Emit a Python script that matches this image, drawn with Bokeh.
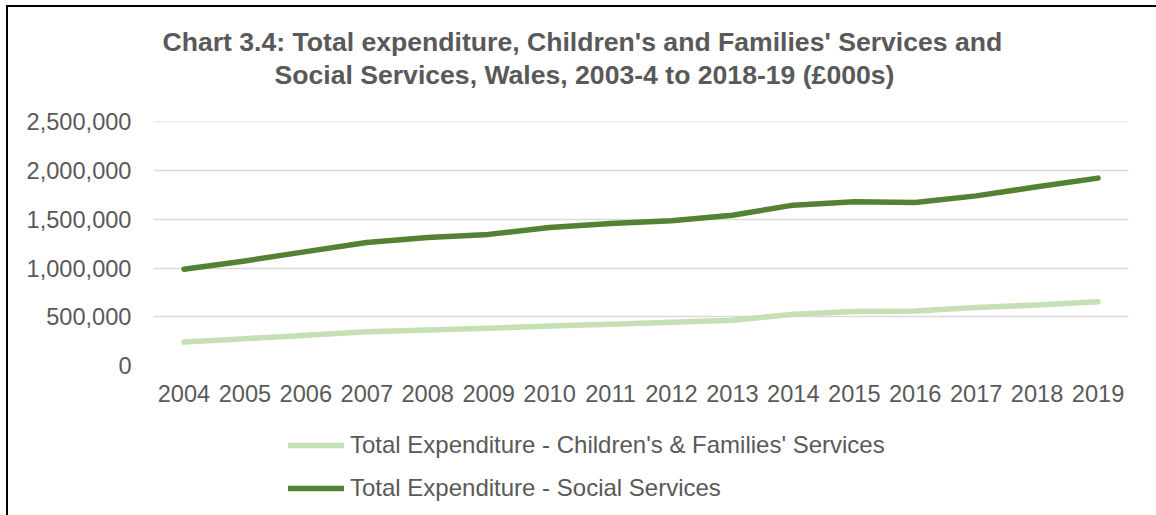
from bokeh.plotting import figure
from bokeh.models import (Range1d, NumeralTickFormatter, Legend, LegendItem, Title)
from bokeh.layouts import column
from bokeh.embed import file_html
from bokeh.resources import INLINE

years = [str(y) for y in range(2004, 2020)]
children_families = [241000, 275000, 310000, 347000, 364000, 382000, 406000, 423000,
                     443000, 464000, 525000, 553000, 560000, 594000, 621000, 655000]
social_services = [988000, 1073000, 1168000, 1261000, 1312000, 1345000, 1415000, 1456000,
                   1484000, 1542000, 1645000, 1679000, 1672000, 1740000, 1833000, 1922000]
y_ticks = [0, 500000, 1000000, 1500000, 2000000, 2500000]
title_line1 = "Chart 3.4: Total expenditure, Children's and Families' Services and"
title_line2 = "Social Services, Wales, 2003-4 to 2018-19 (£000s)"
label_cf = "Total Expenditure - Children's & Families' Services"
label_ss = "Total Expenditure - Social Services"

TXT = "#595959"
FONT = "Liberation Sans"
C_CF = "#C5E0B4"
C_SS = "#548235"

p = figure(width=1148, height=420, x_range=years, y_range=Range1d(0, 2503000),
           output_backend="svg", toolbar_location=None,
           min_border_left=145, min_border_right=28, min_border_top=114,
           min_border_bottom=62)
p.outline_line_color = None
p.background_fill_color = "white"

p.line(years, children_families, line_color=C_CF, line_width=5.5, line_cap="round", line_join="round")
p.line(years, social_services, line_color=C_SS, line_width=5.5, line_cap="round", line_join="round")

p.yaxis.formatter = NumeralTickFormatter(format="0,0")
p.yaxis.ticker = y_ticks
for ax in (p.xaxis[0], p.yaxis[0]):
    ax.axis_line_color = None
    ax.major_tick_line_color = None
    ax.minor_tick_line_color = None
    ax.major_label_text_color = TXT
    ax.major_label_text_font = FONT
    ax.major_label_text_font_size = "23.6px"
p.yaxis.major_label_standoff = 16
p.xaxis.major_label_standoff = 13
p.xgrid.grid_line_color = None
p.ygrid.grid_line_color = "#d9d9d9"
p.ygrid.grid_line_width = 1.5

spacer = Title(text=" ", text_font=FONT, text_font_size="26.6px", standoff=0)
t2 = Title(text=title_line2, align="left", offset=121, text_font=FONT, text_font_size="26.6px",
           text_font_style="bold", text_color=TXT, standoff=0)
t1 = Title(text=title_line1, align="left", offset=9, text_font=FONT, text_font_size="26.6px",
           text_font_style="bold", text_color=TXT, standoff=2)
p.add_layout(spacer, "above")
p.add_layout(t2, "above")
p.add_layout(t1, "above")

# legend panel (legend-only proxies, kept outside the visible range)
p2 = figure(width=1148, height=88, x_range=Range1d(0, 1), y_range=Range1d(0, 1),
            output_backend="svg", toolbar_location=None, x_axis_type=None, y_axis_type=None,
            min_border_left=0, min_border_right=0, min_border_top=0, min_border_bottom=0)
p2.outline_line_color = None
p2.xgrid.grid_line_color = None
p2.ygrid.grid_line_color = None
k_cf = p2.line(x=[-5, -4], y=[-5, -4], line_color=C_CF, line_width=5.5, line_cap="round")
k_ss = p2.line(x=[-5, -4], y=[-5, -4], line_color=C_SS, line_width=5.5, line_cap="round")
legend = Legend(items=[LegendItem(label=label_cf, renderers=[k_cf]),
                       LegendItem(label=label_ss, renderers=[k_ss])],
                location=(135, 12), orientation="vertical",
                glyph_width=56, glyph_height=30, label_height=30, label_standoff=6,
                spacing=13, padding=0, margin=0,
                border_line_color=None, background_fill_alpha=0,
                label_text_color=TXT, label_text_font=FONT, label_text_font_size="24px")
p2.add_layout(legend, "center")

layout = column(p, p2, spacing=0)
layout.margin = (5, 0, 0, 6)
layout.styles = {"border-left": "2px solid #000000", "border-top": "2px solid #000000"}

open("out.html", "w").write(file_html(layout, INLINE))
